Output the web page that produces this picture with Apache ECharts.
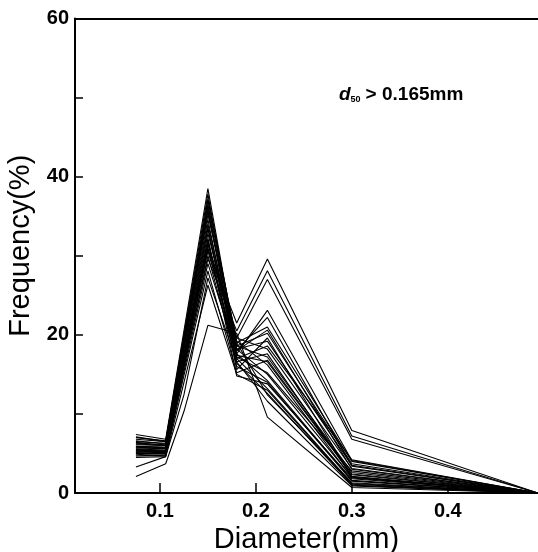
<!DOCTYPE html>
<html>
<head>
<meta charset="utf-8">
<script src="https://cdn.jsdelivr.net/npm/echarts@6/dist/echarts.min.js"></script>
<style>
  html, body { margin: 0; padding: 0; background: #fff; }
  #main { width: 538px; height: 552px; }
</style>
</head>
<body>
<div id="main"></div>
<script>
var diameters = [0.075, 0.106, 0.125, 0.15, 0.18, 0.212, 0.30, 0.494];
// frequency (%) per sample, null = no reading at that diameter
var samples = [
  [7.4, 6.8, null, 38.5, 18.2, 15.0, 2.0, 0],
  [7.0, 6.6, null, 37.8, 17.6, 14.2, 1.6, 0],
  [6.8, 6.5, null, 37.0, 19.2, 16.2, 1.9, 0],
  [6.5, 6.3, null, 36.5, 18.6, 17.2, 2.6, 0],
  [6.3, 6.1, null, 35.8, 17.0, 13.2, 1.2, 0],
  [6.1, 6.0, null, 35.2, 19.6, 18.2, 3.1, 0],
  [5.9, 5.8, null, 34.6, 16.4, 12.6, 1.0, 0],
  [6.2, 6.0, null, 34.0, 18.2, 19.2, 3.5, 0],
  [5.7, 5.6, null, 33.4, 17.4, 16.6, 2.3, 0],
  [5.5, 5.4, null, 32.8, 18.6, 20.2, 3.7, 0],
  [5.8, 5.6, null, 32.2, 16.0, 14.0, 1.5, 0],
  [5.3, 5.2, null, 31.6, 19.0, 21.0, 4.0, 0],
  [6.6, 6.2, null, 31.0, 17.2, 15.2, 2.8, 0],
  [5.4, 5.3, null, 30.6, 18.0, 22.2, 3.4, 0],
  [5.1, 5.0, null, 30.0, 16.6, 17.6, 2.1, 0],
  [5.9, 5.7, null, 30.8, 21.5, 29.6, 7.9, 0],
  [5.6, 5.4, null, 29.6, 20.5, 28.1, 7.2, 0],
  [5.2, 5.1, null, 31.4, 19.6, 27.0, 6.8, 0],
  [5.0, 4.9, null, 29.0, 17.6, 23.1, 4.1, 0],
  [4.7, 4.8, null, 28.1, 15.2, 16.8, 2.4, 0],
  [4.5, 4.6, null, 26.3, 15.0, 13.0, 1.1, 0],
  [3.3, 4.6, 12.4, 27.2, 16.6, 11.6, 0.9, 0],
  [2.1, 3.7, 10.3, 21.2, 20.2, 9.6, 0.7, 0],
  [6.4, 6.0, null, 35.6, 18.0, 20.6, 3.0, 0],
  [5.4, 5.3, null, 37.2, 19.0, 12.4, 1.3, 0],
  [4.9, 4.7, null, 33.6, 15.6, 19.6, 2.0, 0],
  [7.1, 6.5, null, 36.2, 17.0, 18.6, 4.2, 0],
  [5.0, 5.0, null, 32.0, 14.8, 13.8, 1.8, 0]
];
var xTicks = [0.1, 0.2, 0.3, 0.4];
var yLabels = [0, 20, 40, 60];

var chartDom = document.getElementById('main');
var myChart = echarts.init(chartDom);

var series = samples.map(function (s, i) {
  return {
    name: 'sample' + (i + 1),
    type: 'line',
    symbol: 'none',
    connectNulls: true,
    lineStyle: { color: '#000', width: 1.1 },
    data: s.map(function (v, j) { return [diameters[j], v]; })
  };
});

var option = {
  animation: false,
  backgroundColor: '#fff',
  textStyle: { fontFamily: 'Liberation Sans, Arial, sans-serif' },
  title: {
    text: '{d|d}{s|50} {t|> 0.165mm}',
    left: 334,
    top: 80,
    textStyle: {
      rich: {
        d: { fontSize: 19, fontStyle: 'italic', color: '#000' },
        s: { fontSize: 9, color: '#000', verticalAlign: 'bottom', padding: [8, 0, 0, 0] },
        t: { fontSize: 19, color: '#000' }
      }
    }
  },
  grid: { left: 75, right: 0, top: 18.5, bottom: 59, containLabel: false, outerBoundsMode: 'none' },
  xAxis: [{
    type: 'value',
    min: 0.0115,
    max: 0.494,
    name: 'Diameter(mm)',
    nameLocation: 'middle',
    nameGap: 27,
    nameTextStyle: { fontSize: 29, color: '#000' },
    axisLine: { lineStyle: { color: '#000', width: 2 } },
    axisTick: { inside: true, length: 10, customValues: xTicks, lineStyle: { color: '#000', width: 1.5 } },
    axisLabel: { customValues: xTicks, fontSize: 20, fontWeight: 'bold', color: '#000', margin: 8 },
    splitLine: { show: false }
  }, {
    type: 'value',
    position: 'top',
    min: 0.0115,
    max: 0.494,
    axisLine: { show: true, lineStyle: { color: '#000', width: 2 } },
    axisTick: { show: false },
    axisLabel: { show: false },
    splitLine: { show: false }
  }],
  yAxis: {
    type: 'value',
    min: 0,
    max: 60,
    interval: 10,
    name: 'Frequency(%)',
    nameLocation: 'middle',
    nameGap: 34,
    nameTextStyle: { fontSize: 29, color: '#000', padding: [0, 0, 0, 20] },
    axisLine: { show: true, lineStyle: { color: '#000', width: 2 } },
    axisTick: { inside: true, length: 8, lineStyle: { color: '#000', width: 1.5 } },
    axisLabel: {
      fontSize: 20,
      fontWeight: 'bold',
      color: '#000',
      margin: 6,
      formatter: function (v) { return yLabels.indexOf(v) >= 0 ? String(v) : ''; }
    },
    splitLine: { show: false }
  },
  series: series
};

option && myChart.setOption(option);
</script>
</body>
</html>
